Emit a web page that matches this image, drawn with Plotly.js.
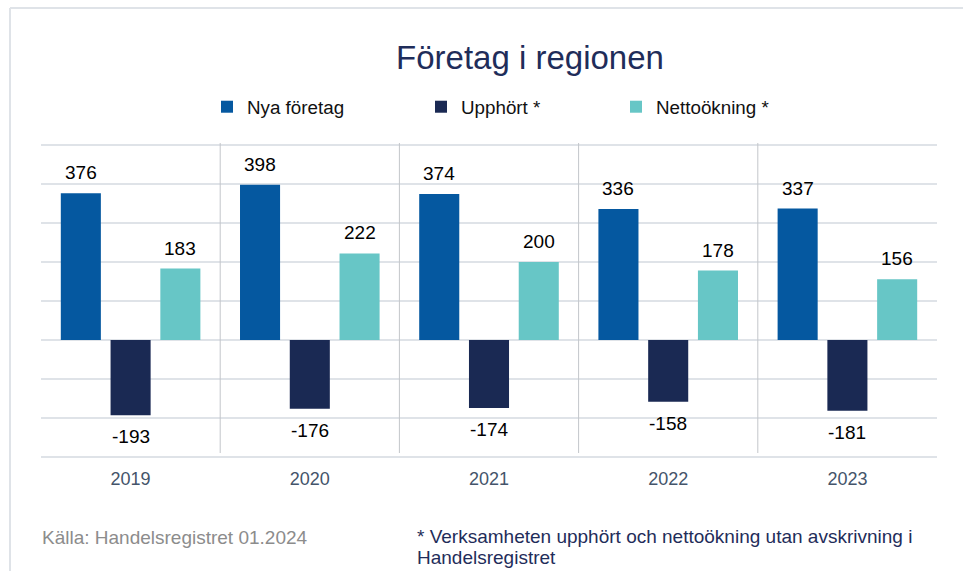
<!DOCTYPE html>
<html>
<head>
<meta charset="utf-8">
<script src="https://cdn.plot.ly/plotly-3.0.1.min.js"></script>
<style>
html,body{margin:0;padding:0;background:#fff;}
#chart{width:963px;height:571px;}
</style>
</head>
<body>
<div id="chart"></div>
<script>
// ---- data ----
const years = ['2019', '2020', '2021', '2022', '2023'];
const nyaForetag = [376, 398, 374, 336, 337];
const upphort = [-193, -176, -174, -158, -181];
const nettookning = [183, 222, 200, 178, 156];
const seriesNames = ['Nya företag', 'Upphört *', 'Nettoökning *'];
const seriesColors = ['#0558a0', '#1a2953', '#67c6c6'];
const chartTitle = 'Företag i regionen';
const sourceText = 'Källa: Handelsregistret 01.2024';
const noteLine1 = '* Verksamheten upphört och nettoökning utan avskrivning i';
const noteLine2 = 'Handelsregistret';

// ---- layout constants ----
const W = 963, H = 571;
const M = {l: 41, r: 26, t: 141, b: 110};
const plotW = W - M.l - M.r;
const plotH = H - M.t - M.b;
const bargap = 0.167;
const bargroupgap = 0.195;
const FONT = 'Liberation Sans, Arial, sans-serif';

const series = [nyaForetag, upphort, nettookning];
const legendIds = ['legend', 'legend2', 'legend3'];

const traces = series.map((vals, i) => ({
  type: 'bar',
  x: years,
  y: vals,
  name: seriesNames[i],
  marker: {color: seriesColors[i]},
  legend: legendIds[i],
  hoverinfo: 'skip'
}));

const py = (px) => (H - M.b - px) / plotH;   // pixel y -> paper y
const pxX = (px) => (px - M.l) / plotW;       // pixel x -> paper x
const catPaper = (idx) => (idx + 0.5) / years.length; // category centre in paper units

// value labels as annotations
const catW = plotW / years.length;
const slotW = (1 - bargap) * catW / series.length;
const annotations = [];
series.forEach((vals, i) => {
  vals.forEach((v, j) => {
    annotations.push({
      x: catPaper(j), y: v, xref: 'paper', yref: 'y',
      text: String(v),
      showarrow: false,
      xanchor: 'center',
      xshift: (i - (series.length - 1) / 2) * slotW,
      yanchor: v >= 0 ? 'bottom' : 'top',
      yshift: v >= 0 ? 8 : -9,
      font: {family: FONT, size: 19, color: '#000000'}
    });
  });
});

// footnotes
annotations.push({
  xref: 'paper', yref: 'paper', x: pxX(40), y: py(537),
  xanchor: 'left', yanchor: 'middle', showarrow: false,
  text: sourceText, font: {family: FONT, size: 19, color: '#8c8c8c'}
});
annotations.push({
  xref: 'paper', yref: 'paper', x: pxX(415), y: py(536),
  xanchor: 'left', yanchor: 'middle', showarrow: false,
  text: noteLine1, font: {family: FONT, size: 19, color: '#1f2d5a'}
});
annotations.push({
  xref: 'paper', yref: 'paper', x: pxX(415), y: py(557),
  xanchor: 'left', yanchor: 'middle', showarrow: false,
  text: noteLine2, font: {family: FONT, size: 19, color: '#1f2d5a'}
});

// separators between categories + outer frame
const shapes = [];
for (let k = 1; k < years.length; k++) {
  shapes.push({
    type: 'line', xref: 'paper', yref: 'paper',
    x0: k / years.length, x1: k / years.length, y0: py(453), y1: py(143),
    line: {color: '#c3c6ca', width: 1}
  });
}
shapes.push({
  type: 'line', xref: 'paper', yref: 'paper',
  x0: pxX(10), x1: pxX(963), y0: py(8), y1: py(8),
  line: {color: '#dfe3e8', width: 2}
});
shapes.push({
  type: 'line', xref: 'paper', yref: 'paper',
  x0: pxX(10), x1: pxX(10), y0: py(8), y1: py(571),
  line: {color: '#dfe3e8', width: 2}
});

const legendBase = {
  orientation: 'h', xref: 'container', yref: 'container',
  yanchor: 'middle', xanchor: 'left', y: 1 - 107 / H,
  font: {family: FONT, size: 18.8, color: '#111111'},
  bgcolor: 'rgba(0,0,0,0)', borderwidth: 0,
  itemclick: false, itemdoubleclick: false
};
const legendX = [207, 421, 616];

const layout = {
  width: W, height: H,
  margin: M,
  paper_bgcolor: '#ffffff', plot_bgcolor: '#ffffff',
  barmode: 'group', bargap: bargap, bargroupgap: bargroupgap,
  title: {
    text: chartTitle, xref: 'container', yref: 'container',
    x: 530 / W, y: 1 - 57 / H, xanchor: 'center', yanchor: 'middle',
    font: {family: FONT, size: 33, color: '#1f2d5a'}
  },
  showlegend: true,
  legend: Object.assign({}, legendBase, {x: legendX[0] / W}),
  legend2: Object.assign({}, legendBase, {x: legendX[1] / W}),
  legend3: Object.assign({}, legendBase, {x: legendX[2] / W}),
  xaxis: {
    type: 'category', categoryorder: 'array', categoryarray: years,
    range: [-0.5, years.length - 0.5],
    showgrid: false, zeroline: false, showline: false,
    ticks: '', ticklabelstandoff: 5,
    tickfont: {family: FONT, size: 18, color: '#44546a'},
    fixedrange: true
  },
  yaxis: {
    range: [-310, 510], dtick: 100, tick0: 0, showticklabels: false,
    showgrid: true, gridcolor: '#dfe3e8', gridwidth: 2,
    zeroline: false, showline: false, ticks: '', fixedrange: true
  },
  annotations: annotations,
  shapes: shapes
};

Plotly.newPlot('chart', traces, layout, {staticPlot: true, displayModeBar: false});
</script>
</body>
</html>
